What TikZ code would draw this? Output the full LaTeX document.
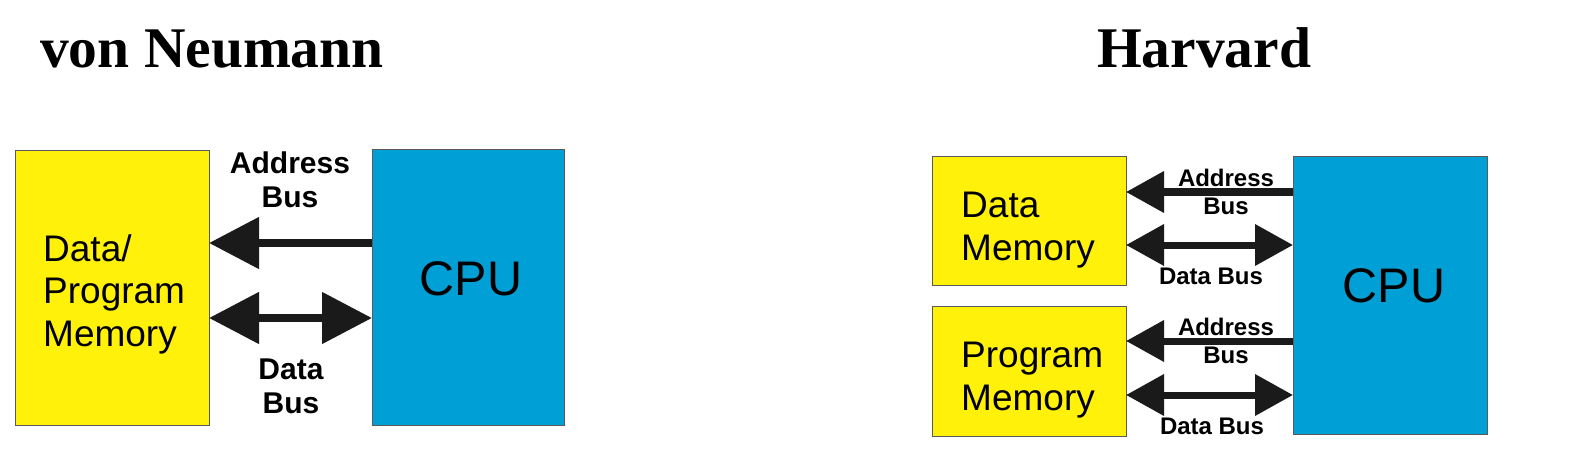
\documentclass[tikz,border=0pt]{standalone}
\usepackage{fontspec}
\setmainfont{Liberation Serif}
\setsansfont{Liberation Sans}
\usetikzlibrary{arrows.meta}
\definecolor{memyellow}{RGB}{255,241,10}
\definecolor{cpublue}{RGB}{0,160,214}
\definecolor{busblack}{RGB}{26,26,26}
\definecolor{edgegray}{RGB}{90,90,90}
\begin{document}
\begin{tikzpicture}[x=1pt,y=-1pt,
  box/.style={draw=edgegray,line width=0.9pt,inner sep=0pt},
  membox/.style={box,fill=memyellow},
  cpubox/.style={box,fill=cpublue},
  title/.style={font=\fontsize{57.5}{57}\selectfont\rmfamily\bfseries,anchor=base west,inner sep=0pt},
  memtext/.style={font=\fontsize{37}{42.5}\selectfont\sffamily,align=left,anchor=west,inner sep=0pt},
  cputext/.style={font=\fontsize{48.5}{48}\selectfont\sffamily,inner sep=0pt},
  biglabel/.style={font=\fontsize{30}{34}\selectfont\sffamily\bfseries,align=center,inner sep=0pt},
  smalllabel/.style={font=\fontsize{24}{28}\selectfont\sffamily\bfseries,align=center,inner sep=0pt},
  bigbus/.style={draw=busblack,line width=8pt,-{Triangle[length=50pt,width=50pt]},color=busblack},
  bigbusboth/.style={draw=busblack,line width=8pt,{Triangle[length=50pt,width=50pt]}-{Triangle[length=50pt,width=50pt]},color=busblack},
  smallbus/.style={draw=busblack,line width=7pt,-{Triangle[length=38pt,width=40pt]},color=busblack},
  smallbusboth/.style={draw=busblack,line width=7pt,{Triangle[length=38pt,width=40pt]}-{Triangle[length=38pt,width=40pt]},color=busblack}
]
\useasboundingbox (0,0) rectangle (1578,465);

% ---------- von Neumann ----------
\node[title] (tvn) at (40,68) {von Neumann};
\path[membox] (15,150) rectangle (209,425);
\coordinate (memE) at (209,287.5);
\path[cpubox] (372,149) rectangle (564,425);
\coordinate (cpuW) at (372,287);
\node[memtext] (memtxt) at (43,294) {Data/\\Program\\Memory};
\node[cputext] (cputxt) at (471,279) {CPU};

\coordinate (ya1) at (0,243);
\coordinate (yd1) at (0,318);
\draw[bigbus] (cpuW |- ya1) -- (memE |- ya1);
\draw[bigbusboth] (memE |- yd1) -- (cpuW |- yd1);
\node[biglabel] (la1) at (290,180) {Address\\Bus};
\node[biglabel] (ld1) at (291,386) {Data\\Bus};

% ---------- Harvard ----------
\node[title] (thv) at (1097,68) {Harvard};
\path[membox] (932,156) rectangle (1126,285);
\path[membox] (932,306) rectangle (1126,436);
\path[cpubox] (1293,156) rectangle (1487,434);
\coordinate (dmE) at (1126,220);
\coordinate (pmE) at (1126,371);
\coordinate (hcpuW) at (1293,295);
\node[memtext] (dmtxt) at (961,230) {Data\\Memory};
\node[memtext] (pmtxt) at (961,380) {Program\\Memory};
\node[cputext] (hcputxt) at (1394,286) {CPU};

\coordinate (ya2) at (0,192);
\coordinate (yd2) at (0,245);
\coordinate (ya3) at (0,341);
\coordinate (yd3) at (0,395);
\draw[smallbus] (hcpuW |- ya2) -- (dmE |- ya2);
\draw[smallbusboth] (dmE |- yd2) -- (hcpuW |- yd2);
\draw[smallbus] (hcpuW |- ya3) -- (pmE |- ya3);
\draw[smallbusboth] (pmE |- yd3) -- (hcpuW |- yd3);
\node[smalllabel] (la2) at (1226,192) {Address\\Bus};
\node[smalllabel] (ld2) at (1211,276) {Data Bus};
\node[smalllabel] (la3) at (1226,341) {Address\\Bus};
\node[smalllabel] (ld3) at (1212,426) {Data Bus};
\end{tikzpicture}
\end{document}
